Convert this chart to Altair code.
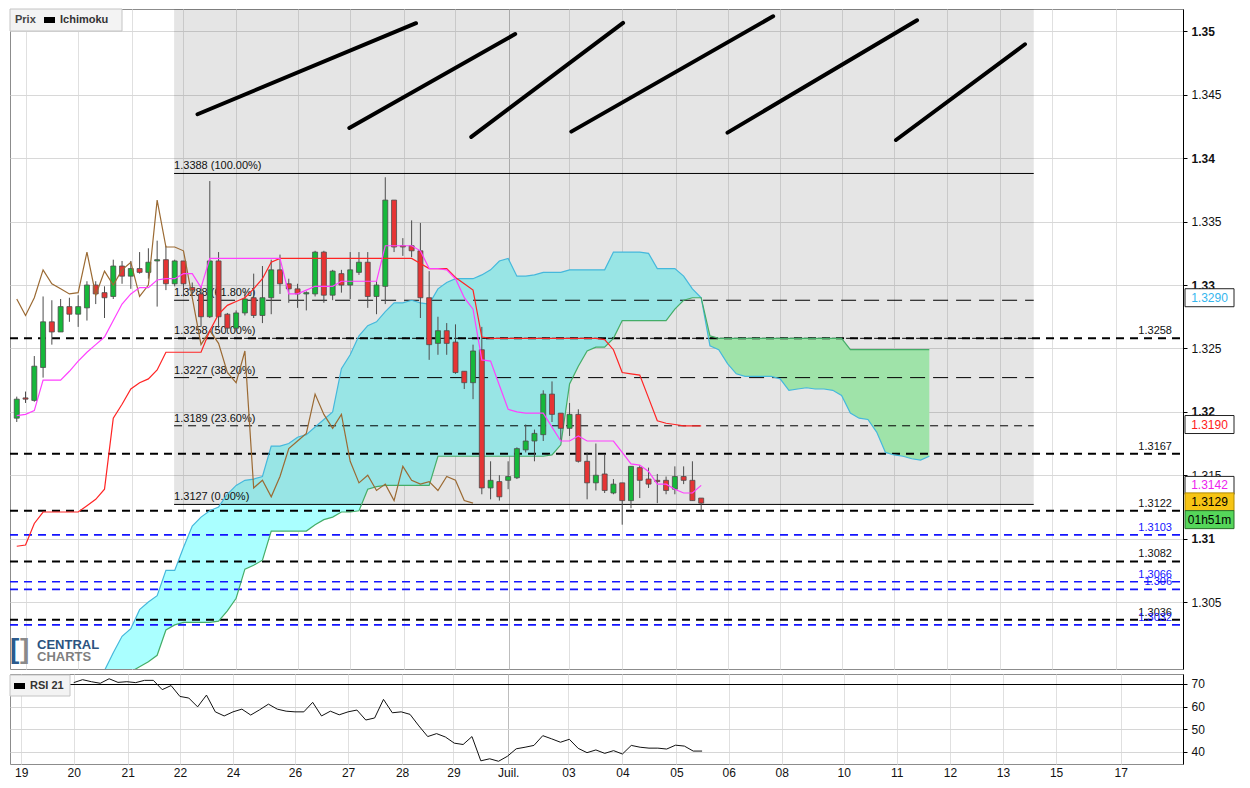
import altair as alt
import pandas as pd

# ---------------- data (4h candles, index 0..78) ----------------
opens = [1.3195,1.3211,1.3209,1.3235,1.3271,1.3263,1.3283,1.3277,1.3282,1.3300,
         1.3294,1.3291,1.3315,1.3307,1.3313,1.3310,1.3319,1.3320,1.3301,1.3319,
         1.3298,1.3293,1.3275,1.3319,1.3277,1.3266,1.3278,1.3290,1.3276,1.3290,
         1.3312,1.3301,1.3297,1.3293,1.3293,1.3326,1.3292,1.3309,1.3300,1.3310,
         1.3318,1.3291,1.3299,1.3367,1.3331,1.3331,1.3327,1.3290,1.3254,1.3264,
         1.3255,1.3232,1.3223,1.3249,1.3140,1.3145,1.3146,1.3148,1.3170,1.3177,
         1.3182,1.3214,1.3199,1.3187,1.3198,1.3161,1.3144,1.3151,1.3136,1.3144,
         1.3130,1.3156,1.3147,1.3146,1.3146,1.3139,1.3149,1.3146,1.3132]
highs = [1.3212,1.3216,1.3244,1.3291,1.3288,1.3289,1.3290,1.3292,1.3303,1.3303,
         1.3299,1.3320,1.3319,1.3319,1.3326,1.3329,1.3335,1.3331,1.3320,1.3319,
         1.3302,1.3299,1.3382,1.3326,1.3278,1.3280,1.3295,1.3309,1.3315,1.3320,
         1.3324,1.3305,1.3301,1.3295,1.3327,1.3327,1.3312,1.3312,1.3326,1.3326,
         1.3326,1.3303,1.3385,1.3367,1.3337,1.3351,1.3349,1.3311,1.3275,1.3270,
         1.3269,1.3232,1.3253,1.3267,1.3161,1.3150,1.3161,1.3172,1.3190,1.3186,
         1.3217,1.3224,1.3199,1.3207,1.3202,1.3168,1.3175,1.3166,1.3147,1.3144,
         1.3157,1.3158,1.3156,1.3151,1.3149,1.3157,1.3157,1.3161,1.3132]
lows = [1.3192,1.3207,1.3208,1.3227,1.3253,1.3263,1.3271,1.3267,1.3272,1.3285,
        1.3274,1.3289,1.3301,1.3297,1.3309,1.3305,1.3283,1.3296,1.3299,1.3291,
        1.3292,1.3267,1.3274,1.3266,1.3262,1.3264,1.3276,1.3274,1.3270,1.3277,
        1.3293,1.3286,1.3282,1.3280,1.3291,1.3286,1.3288,1.3294,1.3289,1.3308,
        1.3282,1.3277,1.3285,1.3326,1.3323,1.3322,1.3274,1.3241,1.3245,1.3245,
        1.3230,1.3218,1.3210,1.3135,1.3131,1.3130,1.3139,1.3147,1.3168,1.3161,
        1.3177,1.3192,1.3177,1.3181,1.3160,1.3131,1.3138,1.3136,1.3135,1.3111,
        1.3124,1.3132,1.3140,1.3128,1.3135,1.3135,1.3143,1.3130,1.3122]
closes = [1.3210,1.3210,1.3236,1.3271,1.3263,1.3283,1.3277,1.3283,1.3300,1.3293,
          1.3290,1.3315,1.3307,1.3313,1.3310,1.3318,1.3320,1.3301,1.3319,1.3301,
          1.3296,1.3275,1.3319,1.3275,1.3266,1.3278,1.3289,1.3276,1.3290,1.3312,
          1.3301,1.3297,1.3293,1.3294,1.3326,1.3292,1.3311,1.3300,1.3312,1.3318,
          1.3291,1.3300,1.3367,1.3330,1.3330,1.3327,1.3290,1.3253,1.3264,1.3254,
          1.3231,1.3223,1.3248,1.3140,1.3146,1.3133,1.3149,1.3171,1.3177,1.3183,
          1.3214,1.3198,1.3187,1.3198,1.3161,1.3144,1.3150,1.3138,1.3143,1.3130,
          1.3157,1.3146,1.3143,1.3145,1.3138,1.3149,1.3146,1.3130,1.3128]
tenkan = [1.3197,1.3198,1.3201,1.3225,1.3225,1.3225,1.3232,1.3240,1.3247,1.3253,
          1.3259,1.3272,1.3285,1.3293,1.3298,1.3298,1.3304,1.3305,1.3305,1.3309,
          1.3309,1.3298,1.3321,1.3321,1.3321,1.3321,1.3321,1.3321,1.3321,1.3321,
          1.3321,1.3293,1.3293,1.3296,1.3299,1.3299,1.3299,1.3303,1.3303,1.3303,
          1.3303,1.3303,1.3331,1.3331,1.3331,1.3331,1.3327,1.3313,1.3313,1.3312,
          1.3305,1.3290,1.3281,1.3241,1.3240,1.3221,1.3202,1.3200,1.3199,1.3199,
          1.3199,1.3188,1.3177,1.3177,1.3181,1.3177,1.3177,1.3177,1.3177,1.3168,
          1.3159,1.3158,1.3153,1.3143,1.3143,1.3139,1.3136,1.3136,1.3142]
kijun = [1.3094,1.3095,1.3112,1.3121,1.3121,1.3121,1.3121,1.3121,1.3126,1.3131,
         1.3139,1.3195,1.3206,1.3218,1.3223,1.3226,1.3233,1.3247,1.3247,1.3247,
         1.3247,1.3247,1.3264,1.3277,1.3284,1.3287,1.3290,1.3297,1.3305,1.3318,
         1.3321,1.3321,1.3321,1.3321,1.3321,1.3321,1.3321,1.3321,1.3321,1.3321,
         1.3321,1.3321,1.3321,1.3321,1.3321,1.3321,1.3317,1.3313,1.3313,1.3313,
         1.3306,1.3301,1.3296,1.3259,1.3258,1.3258,1.3258,1.3258,1.3258,1.3258,
         1.3258,1.3258,1.3258,1.3258,1.3258,1.3258,1.3258,1.3257,1.3249,1.3231,
         1.3230,1.3229,1.3211,1.3193,1.3191,1.3190,1.3189,1.3189,1.3189]
# cloud spans, index 10..104
cloud_start = 10
span_a = [1.2996,1.3010,1.3023,1.3029,1.3044,1.3050,1.3055,1.3075,1.3075,1.3093,
          1.3110,1.3117,1.3122,1.3125,1.3135,1.3142,1.3146,1.3147,1.3149,1.3173,
          1.3173,1.3175,1.3180,1.3182,1.3188,1.3194,1.3200,1.3234,1.3245,1.3260,
          1.3268,1.3271,1.3279,1.3286,1.3286,1.3288,1.3286,1.3285,1.3297,1.3302,
          1.3305,1.3305,1.3305,1.3308,1.3312,1.3319,1.3321,1.3307,1.3307,1.3308,
          1.3310,1.3310,1.3310,1.3312,1.3312,1.3312,1.3312,1.3312,1.3326,1.3326,
          1.3326,1.3326,1.3325,1.3313,1.3313,1.3313,1.3307,1.3297,1.3290,1.3252,
          1.3249,1.3238,1.3230,1.3228,1.3228,1.3228,1.3228,1.3226,1.3217,1.3218,
          1.3219,1.3218,1.3218,1.3217,1.3213,1.3199,1.3195,1.3194,1.3184,1.3168,
          1.3166,1.3165,1.3163,1.3162,1.3165]
span_b = [1.2980,1.2985,1.2990,1.2995,1.2999,1.3003,1.3008,1.3028,1.3032,1.3034,
          1.3034,1.3034,1.3034,1.3035,1.3043,1.3053,1.3076,1.3079,1.3083,1.3106,
          1.3106,1.3106,1.3106,1.3106,1.3111,1.3115,1.3117,1.3121,1.3121,1.3122,
          1.3139,1.3141,1.3142,1.3142,1.3142,1.3142,1.3142,1.3142,1.3165,1.3165,
          1.3165,1.3165,1.3165,1.3165,1.3165,1.3165,1.3165,1.3165,1.3165,1.3165,
          1.3165,1.3166,1.3174,1.3222,1.3236,1.3248,1.3251,1.3251,1.3258,1.3272,
          1.3272,1.3272,1.3272,1.3272,1.3272,1.3281,1.3288,1.3290,1.3290,1.3260,
          1.3258,1.3258,1.3258,1.3258,1.3258,1.3258,1.3258,1.3258,1.3258,1.3258,
          1.3258,1.3258,1.3258,1.3258,1.3258,1.3249,1.3249,1.3249,1.3249,1.3249,
          1.3249,1.3249,1.3249,1.3249,1.3249]
cloud_switch = 78
# RSI 21, index 7..78
rsi_start = 7
rsi = [70.6,71.9,71.0,70.3,72.3,70.7,71.0,70.6,71.6,71.6,67.5,69.3,64.5,63.8,59.9,
       65.1,57.7,55.9,57.7,58.9,56.3,58.6,61.1,58.9,58.0,57.7,57.7,61.9,55.9,58.0,
       56.4,57.7,58.5,54.1,55.0,63.2,57.3,57.7,56.6,51.5,46.8,48.1,46.6,43.9,43.3,
       46.8,36.1,37.0,35.9,38.1,41.4,42.1,42.9,47.2,45.8,44.3,45.6,41.6,39.7,40.9,
       39.4,40.6,39.1,42.9,42.1,41.7,41.7,41.3,43.0,42.6,40.4,40.4]

fib_levels = [1.3388, 1.3288, 1.3258, 1.3227, 1.3189, 1.3127]
fib_labels = ["1.3388 (100.00%)", "1.3288 (61.80%)", "1.3258 (50.00%)",
              "1.3227 (38.20%)", "1.3189 (23.60%)", "1.3127 (0.00%)"]
fib_start, fib_end = 17.93, 115.9

black_levels = [1.3258, 1.3167, 1.3122, 1.3082, 1.3036]
black_labels = ["1.3258", "1.3167", "1.3122", "1.3082", "1.3036"]
blue_levels = [1.3103, 1.3066, 1.3060, 1.3032]
blue_labels = ["1.3103", "1.3066", "1.306", "1.3032"]

diag_x1 = [20.6, 37.9, 51.8, 63.2, 81.0, 100.2]
diag_y1 = [1.34347, 1.34239, 1.34168, 1.34210, 1.34202, 1.34144]
diag_x2 = [45.5, 56.8, 69.1, 86.2, 102.6, 114.9]
diag_y2 = [1.35065, 1.34979, 1.35067, 1.35120, 1.35088, 1.34899]

tick_pos = [1.06, 7.0, 13.1, 19.0, 25.0, 32.0, 38.0, 44.1, 49.9, 56.1, 62.9,
            69.0, 75.1, 81.0, 87.0, 94.0, 100.0, 106.0, 112.0, 118.0, 125.3]
tick_labels = ["19", "20", "21", "22", "24", "26", "27", "28", "29", "Juil.", "03",
               "04", "05", "06", "08", "10", "11", "12", "13", "15", "17"]
price_ticks = [1.305, 1.31, 1.315, 1.32, 1.325, 1.33, 1.335, 1.34, 1.345, 1.35]
rsi_ticks = [40, 50, 60, 70]

box_texts = ["1.3290", "1.3190", "1.3142", "1.3129", "01h51m"]
box_levels = [1.3290, 1.3190, 1.3142, 1.3129, 1.3115]

# styles (kept apart from data)
box_text_colors = ["#35b6ee", "#ff1a1a", "#ee22ee", "#000000", "#000000"]
box_fills = ["#ffffff", "#ffffff", "#ffffff", "#f6c414", "#55d65a"]
box_strokes = ["#222222", "#222222", "#222222", "#b08a00", "#2b6e2b"]

FONT = "Liberation Sans"
W, H_MAIN, H_RSI = 1173, 660, 90
XDOM = [-0.2, 132.34]
YDOM = [1.29972, 1.35177]
RDOM = [34.7, 74.4]

xs = alt.Scale(domain=XDOM, nice=False, zero=False)
ys = alt.Scale(domain=YDOM, nice=False, zero=False)
rs = alt.Scale(domain=RDOM, nice=False, zero=False)

grid_cond = {"condition": {"test": "datum.value == 56.1", "value": "#bdbdbd"}, "value": "#e0e0e0"}
bold_cond = {"condition": {"test": "abs(datum.value*100 - round(datum.value*100)) < 0.01", "value": "bold"},
             "value": "normal"}
rsi_grid_cond = {"condition": {"test": "datum.value == 70", "value": "#000000"}, "value": "#d6d6d6"}

main_xaxis = alt.Axis(values=tick_pos, labels=False, ticks=False, domain=False, grid=True,
                      gridColor=grid_cond, title=None)
main_yaxis = alt.Axis(orient="right", values=price_ticks, format=".4~f", labelFont=FONT,
                      labelFontSize=12, labelColor="#111111", labelFontWeight=bold_cond,
                      tickSize=4, tickColor="#000000", domainColor="#000000", labelPadding=4,
                      grid=True, gridColor="#d8d8d8", title=None)


def MX(f):
    return alt.X(f"{f}:Q", scale=xs, axis=main_xaxis)


def MY(f):
    return alt.Y(f"{f}:Q", scale=ys, axis=main_yaxis)


n = len(closes)
cdf = pd.DataFrame({"i": list(range(n)), "o": opens, "h": highs, "l": lows, "c": closes})
cdf["dir"] = ["up" if c >= o else "down" for o, c in zip(opens, closes)]
ldf = pd.DataFrame({"i": list(range(n)), "tenkan": tenkan, "kijun": kijun})
chdf = pd.DataFrame({"i": list(range(n - 26)), "v": closes[26:]})
cloud = pd.DataFrame({"i": list(range(cloud_start, cloud_start + len(span_a))), "a": span_a, "b": span_b})
cyan_df = cloud[cloud.i <= cloud_switch]
green_df = cloud[cloud.i >= cloud_switch]
rsi_df = pd.DataFrame({"i": list(range(rsi_start, rsi_start + len(rsi))), "v": rsi})

fib_df = pd.DataFrame({"lvl": fib_levels, "lab": fib_labels,
                       "x0": [fib_start] * 6, "x1": [fib_end] * 6})
box_df = pd.DataFrame({"x0": [fib_start], "x1": [fib_end], "lo": [fib_levels[-1]]})
bl_df = pd.DataFrame({"lvl": black_levels, "lab": black_labels})
bu_df = pd.DataFrame({"lvl": blue_levels, "lab": blue_labels})
dg_df = pd.DataFrame({"x1": diag_x1, "y1": diag_y1, "x2": diag_x2, "y2": diag_y2})
rb_df = pd.DataFrame({"lvl": box_levels, "txt": box_texts, "tc": box_text_colors,
                      "bg": box_fills, "sc": box_strokes})
one = pd.DataFrame({"k": [0]})

layers = []
# cloud fills (under everything, grey zone darkens them)
layers.append(alt.Chart(cyan_df).mark_area(color="#aaffff", opacity=1, clip=True).encode(
    x=MX("i"), y=MY("a"), y2="b:Q"))
layers.append(alt.Chart(green_df).mark_area(color="#b2fdbd", opacity=1, clip=True).encode(
    x=MX("i"), y=MY("a"), y2="b:Q"))
# grey Fibonacci zone
layers.append(alt.Chart(box_df).mark_rect(color="#000000", opacity=0.1, clip=True).encode(
    x=MX("x0"), x2="x1:Q", y=MY("lo"), y2=alt.value(0)))
# fib lines
for rows, dash in [([0, 5], None), ([1, 3], [15, 8]), ([2, 4], [8, 6])]:
    kw = dict(color="#000000", strokeWidth=1, clip=True)
    if dash:
        kw["strokeDash"] = dash
    layers.append(alt.Chart(fib_df.iloc[rows]).mark_rule(**kw).encode(
        x=MX("x0"), x2="x1:Q", y=MY("lvl")))
layers.append(alt.Chart(fib_df).mark_text(align="left", baseline="alphabetic", dx=0, dy=-4,
                                          font=FONT, fontSize=11, color="#111111", clip=True).encode(
    x=MX("x0"), y=MY("lvl"), text="lab:N"))
# support / resistance dashed levels
layers.append(alt.Chart(bl_df).mark_rule(color="#000000", strokeWidth=2, strokeDash=[8, 6]).encode(
    x=alt.value(0), x2=alt.value(W), y=MY("lvl")))
layers.append(alt.Chart(bu_df).mark_rule(color="#1414ff", strokeWidth=1.6, strokeDash=[8, 6]).encode(
    x=alt.value(0), x2=alt.value(W), y=MY("lvl")))
layers.append(alt.Chart(bl_df).mark_text(align="right", baseline="alphabetic", dy=-4, font=FONT,
                                         fontSize=11, color="#111111").encode(
    x=alt.value(1162), y=MY("lvl"), text="lab:N"))
layers.append(alt.Chart(bu_df).mark_text(align="right", baseline="alphabetic", dy=-4, font=FONT,
                                         fontSize=11, color="#1414ff").encode(
    x=alt.value(1162), y=MY("lvl"), text="lab:N"))
# cloud edges
layers.append(alt.Chart(cloud).mark_line(color="#45b8dc", strokeWidth=1.2, clip=True).encode(
    x=MX("i"), y=MY("a")))
layers.append(alt.Chart(cloud).mark_line(color="#45ad68", strokeWidth=1.2, clip=True).encode(
    x=MX("i"), y=MY("b")))
# candles
layers.append(alt.Chart(cdf).mark_rule(color="#4d4d4d", strokeWidth=1, clip=True).encode(
    x=MX("i"), y=MY("l"), y2="h:Q"))
layers.append(alt.Chart(cdf).mark_bar(size=5, stroke="#4d4d4d", strokeWidth=0.8, clip=True).encode(
    x=MX("i"), y=MY("o"), y2="c:Q",
    color=alt.Color("dir:N", scale=alt.Scale(domain=["up", "down"], range=["#16b83a", "#e63434"]),
                    legend=None)))
# ichimoku lines
layers.append(alt.Chart(chdf).mark_line(color="#9b6a33", strokeWidth=1.2, clip=True).encode(
    x=MX("i"), y=MY("v")))
layers.append(alt.Chart(ldf).mark_line(color="#ff2424", strokeWidth=1.2, clip=True).encode(
    x=MX("i"), y=MY("kijun")))
layers.append(alt.Chart(ldf).mark_line(color="#ff40ff", strokeWidth=1.2, clip=True).encode(
    x=MX("i"), y=MY("tenkan")))
# diagonal strokes
layers.append(alt.Chart(dg_df).mark_rule(color="#000000", strokeWidth=4, strokeCap="round", clip=True).encode(
    x=MX("x1"), y=MY("y1"), x2="x2:Q", y2="y2:Q"))
# right side price boxes
layers.append(alt.Chart(rb_df).mark_rect(yOffset=-9, y2Offset=9, strokeWidth=1, clip=False).encode(
    x=alt.value(1175), x2=alt.value(1224), y=MY("lvl"), y2="lvl:Q",
    fill=alt.Fill("bg:N", scale=None), stroke=alt.Stroke("sc:N", scale=None)))
layers.append(alt.Chart(rb_df).mark_text(align="center", baseline="middle", font=FONT, fontSize=12,
                                         clip=False).encode(
    x=alt.value(1199.5), y=MY("lvl"), text="txt:N", color=alt.Color("tc:N", scale=None)))
# legend box
layers.append(alt.Chart(one).mark_rect(fill="#f3f3f3", stroke="#c4c4c4", strokeWidth=1).encode(
    x=alt.value(0), x2=alt.value(112), y=alt.value(0), y2=alt.value(22)))
layers.append(alt.Chart(one).mark_rect(fill="#000000").encode(
    x=alt.value(34), x2=alt.value(45), y=alt.value(8), y2=alt.value(14)))
layers.append(alt.Chart(one).mark_text(align="left", baseline="middle", font=FONT, fontSize=11,
                                       fontWeight="bold", color="#444444", text="Prix").encode(
    x=alt.value(5), y=alt.value(11)))
layers.append(alt.Chart(one).mark_text(align="left", baseline="middle", font=FONT, fontSize=11,
                                       fontWeight="bold", color="#333333", text="Ichimoku").encode(
    x=alt.value(50), y=alt.value(11)))
# logo
layers.append(alt.Chart(one).mark_text(align="left", baseline="middle", font=FONT, fontSize=28,
                                       fontWeight="bold", color="#2b5a8c", text="[").encode(
    x=alt.value(0), y=alt.value(641)))
layers.append(alt.Chart(one).mark_text(align="left", baseline="middle", font=FONT, fontSize=28,
                                       fontWeight="bold", color="#8a8a8a", text="]").encode(
    x=alt.value(10), y=alt.value(641)))
layers.append(alt.Chart(one).mark_text(align="left", baseline="middle", font=FONT, fontSize=13,
                                       fontWeight="bold", color="#2b5380", text="CENTRAL").encode(
    x=alt.value(27), y=alt.value(636)))
layers.append(alt.Chart(one).mark_text(align="left", baseline="middle", font=FONT, fontSize=13,
                                       fontWeight="bold", color="#7f7f7f", text="CHARTS").encode(
    x=alt.value(27), y=alt.value(648)))

main = alt.layer(*layers).properties(width=W, height=H_MAIN)

# ---------------- RSI panel ----------------
lab_expr = ("[" + ",".join("'" + s + "'" for s in tick_labels) + "][indexof(["
            + ",".join(str(v) for v in tick_pos) + "], datum.value)]")
rsi_xaxis = alt.Axis(values=tick_pos, labelExpr=lab_expr, grid=True, gridColor=grid_cond, ticks=False,
                     domain=False, labelFont=FONT, labelFontSize=12, labelColor="#111111",
                     labelPadding=3, labelFlush=False, labelOverlap=False, title=None)
rsi_yaxis = alt.Axis(orient="right", values=rsi_ticks, labelFont=FONT, labelFontSize=12,
                     labelColor="#111111", tickSize=4, tickColor="#000000", domainColor="#000000",
                     labelPadding=4, grid=True, gridColor=rsi_grid_cond, title=None)

rsi_line = alt.Chart(rsi_df).mark_line(color="#111111", strokeWidth=1, clip=True).encode(
    x=alt.X("i:Q", scale=xs, axis=rsi_xaxis), y=alt.Y("v:Q", scale=rs, axis=rsi_yaxis))
rsi_box = alt.Chart(one).mark_rect(fill="#f3f3f3", stroke="#c4c4c4", strokeWidth=1).encode(
    x=alt.value(0), x2=alt.value(60), y=alt.value(1), y2=alt.value(22))
rsi_sq = alt.Chart(one).mark_rect(fill="#000000").encode(
    x=alt.value(4), x2=alt.value(15), y=alt.value(9), y2=alt.value(15))
rsi_txt = alt.Chart(one).mark_text(align="left", baseline="middle", font=FONT, fontSize=11,
                                   fontWeight="bold", color="#333333", text="RSI 21").encode(
    x=alt.value(20), y=alt.value(12))
rsi_chart = alt.layer(rsi_line, rsi_box, rsi_sq, rsi_txt).properties(width=W, height=H_RSI)

chart = alt.vconcat(main, rsi_chart, spacing=3).properties(
    padding=0, background="#ffffff").configure_view(stroke="#8c8c8c", strokeWidth=1)

chart.save("out.html", embed_options={"renderer": "svg", "actions": False})
